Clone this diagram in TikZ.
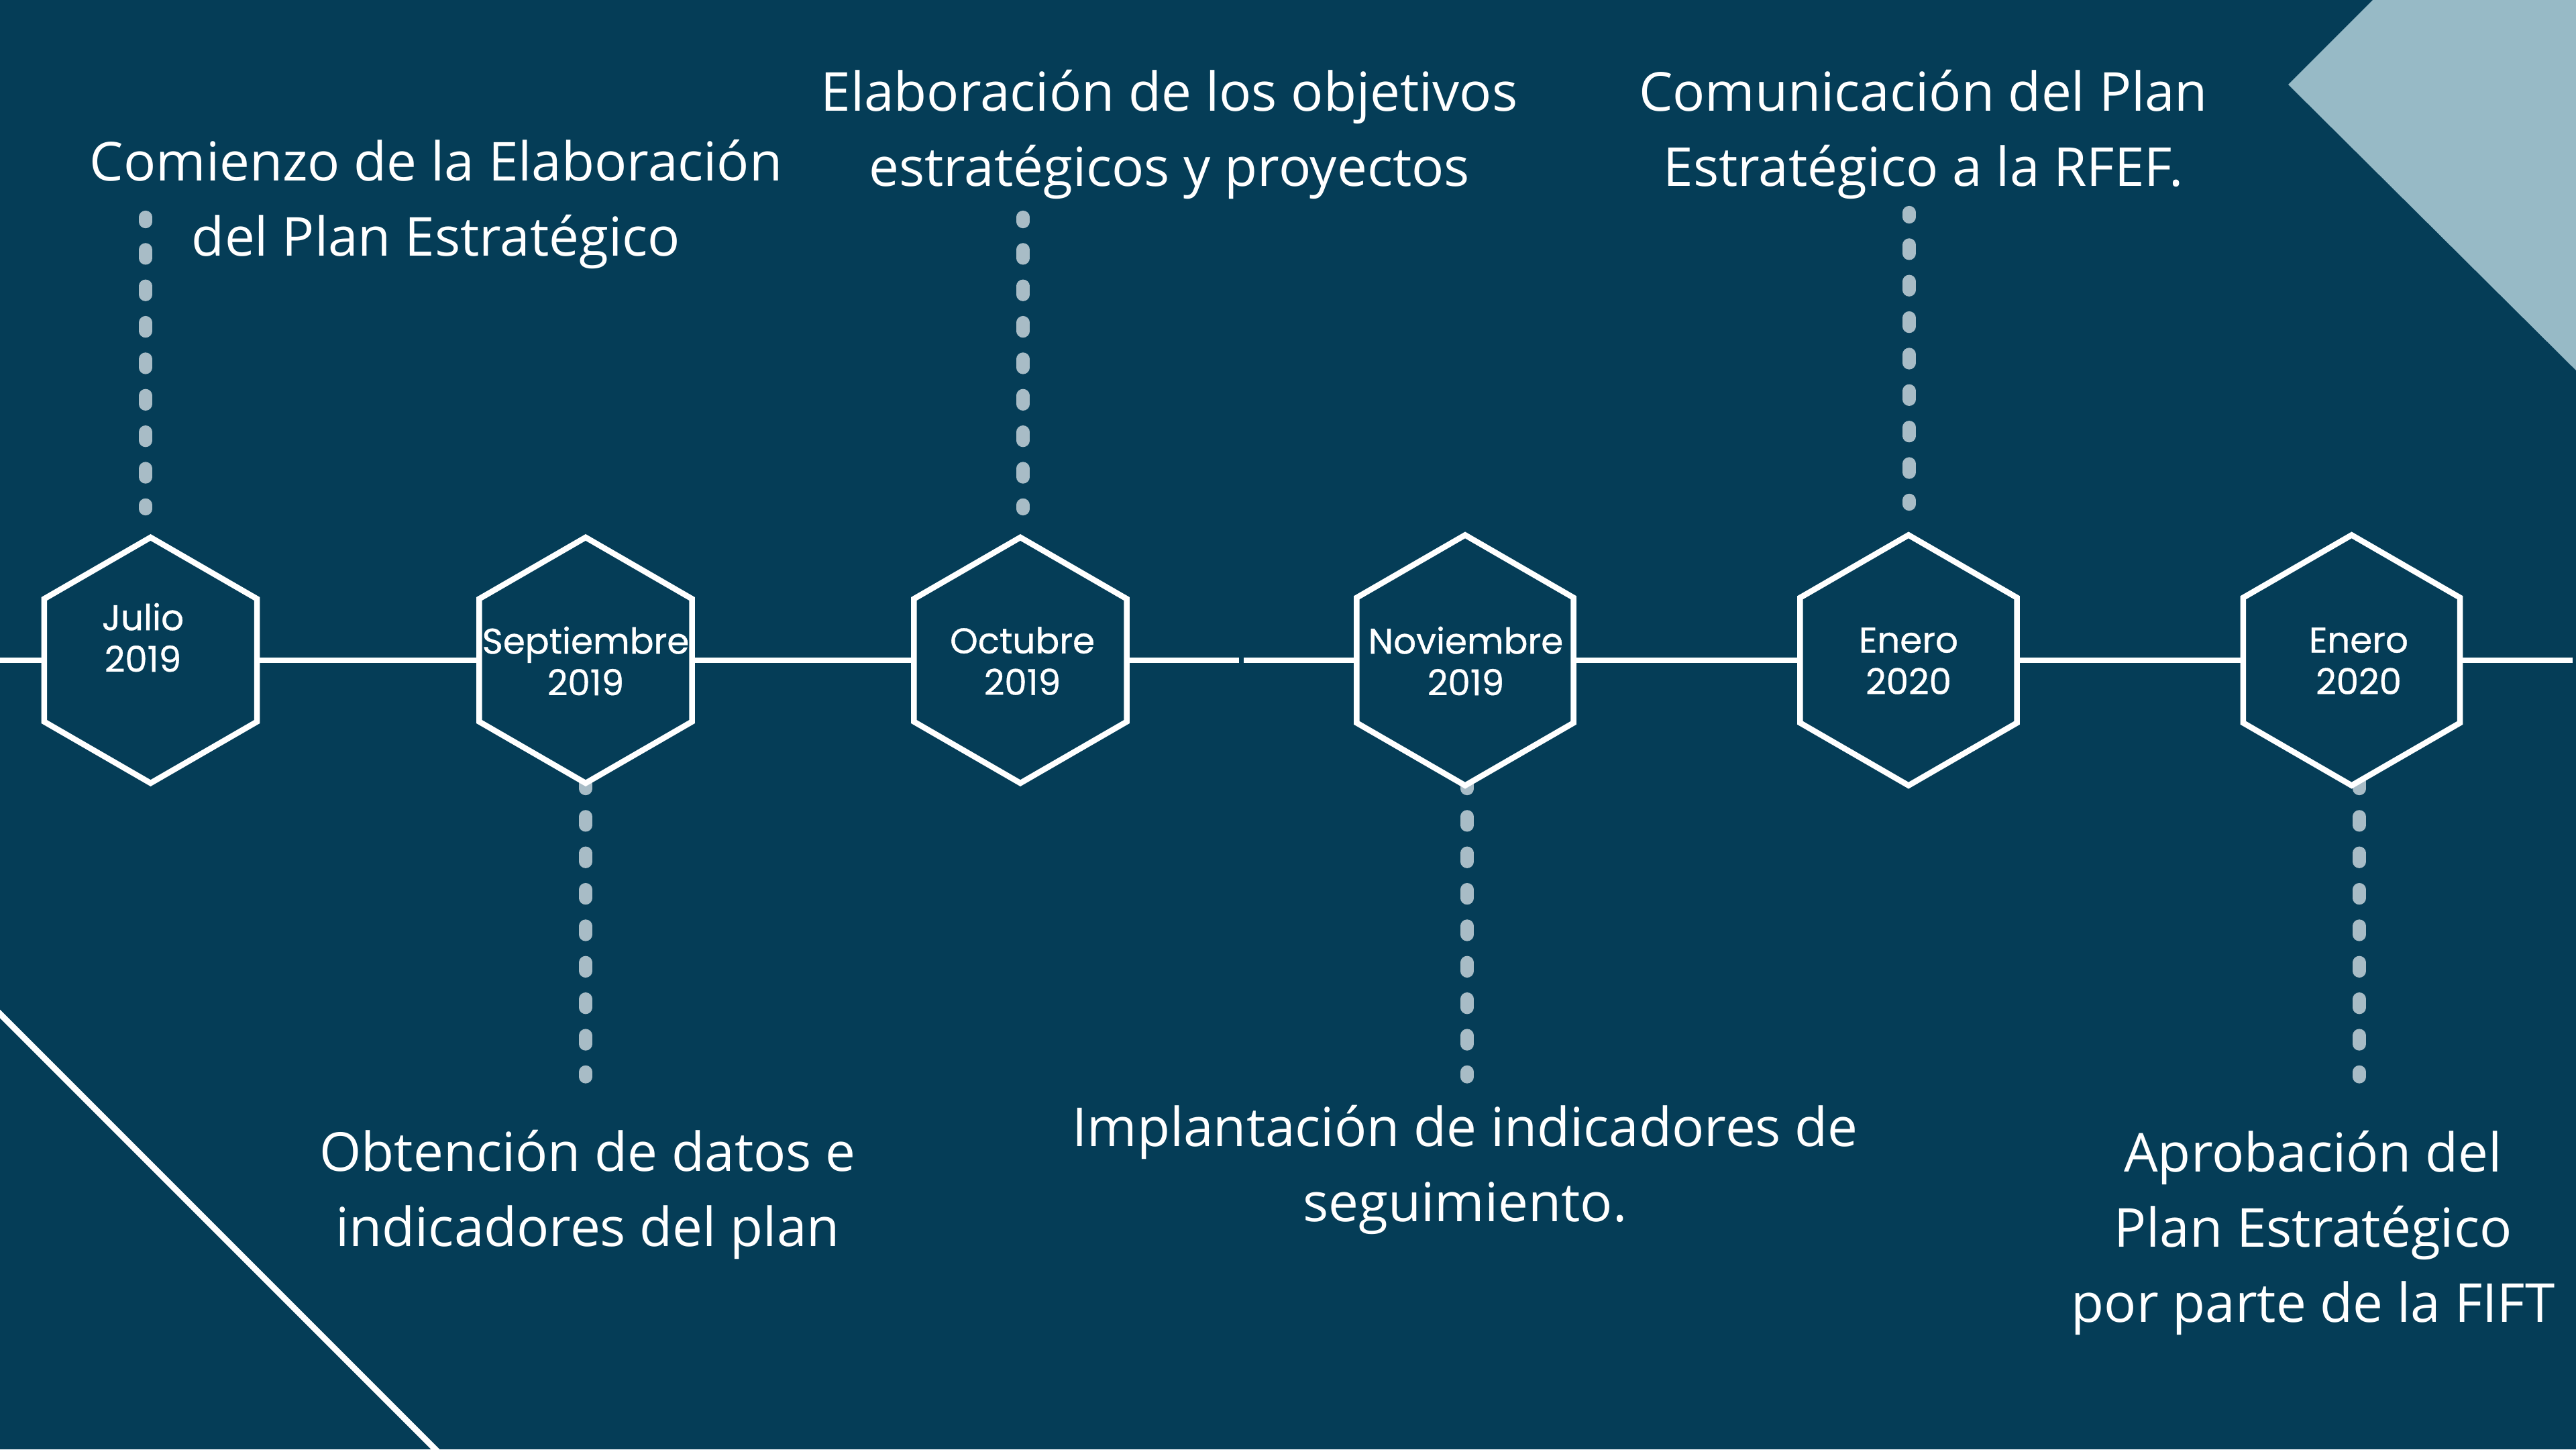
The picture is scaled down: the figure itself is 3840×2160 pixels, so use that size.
\documentclass[tikz,border=0pt]{standalone}
\usepackage{fontspec}
\setmainfont{Open Sans}
\newfontfamily\hexfont[FakeBold=0.7]{Poppins}
\usetikzlibrary{shapes.geometric}
\definecolor{bg}{RGB}{5,61,87}
\definecolor{tri}{RGB}{151,186,198}
\definecolor{dotc}{RGB}{168,188,198}
\tikzset{
  hexa/.style={regular polygon, regular polygon sides=6, shape border rotate=30,
    minimum size=#1, inner sep=0pt, outer sep=0pt, draw=white, line width=0.085cm, fill=bg},
  hexa/.default=3.66cm,
  hext/.style={text=white, align=center, inner sep=0pt,
    font=\hexfont\fontsize{15.1pt}{17.64pt}\selectfont},
  lbl/.style={text=white, inner sep=0pt, anchor=base,
    font=\fontsize{22.76pt}{31.87pt}\selectfont},
  tline/.style={draw=white, line width=0.087cm},
  dotline/.style={draw=dotc, line width=0.193cm, line cap=round,
    dash pattern=on 0.13cm off 0.4133cm},
  diag/.style={draw=white, line width=0.09cm}
}
\newcommand{\lines}[1]{\begin{tabular}[t]{@{}c@{}}#1\end{tabular}}
\begin{document}
\begin{tikzpicture}[x=0.01cm,y=-0.01cm]
\useasboundingbox (0,0) rectangle (3840,2160);
\clip (0,0) rectangle (3840,2160);
\fill[bg] (0,0) rectangle (3840,2160);
% decorations
\fill[tri] (3537,0) -- (3411,126) -- (3840,552) -- (3840,0) -- cycle;
\coordinate (d1) at (-10,1501);
\coordinate (d2) at (659,2170);
\draw[diag] (d1) -- (d2);
% dotted connectors
\coordinate (jt1) at (217,323.5); \coordinate (jt2) at (217,758.5);
\coordinate (ot1) at (1525,323.5); \coordinate (ot2) at (1525,758.5);
\coordinate (et1) at (2846,316.5); \coordinate (et2) at (2846,751.5);
\coordinate (sb1) at (873,1162.5); \coordinate (sb2) at (873,1605);
\coordinate (nb1) at (2187,1162.5); \coordinate (nb2) at (2187,1605);
\coordinate (eb1) at (3517,1162.5); \coordinate (eb2) at (3517,1605);
\draw[dotline, dash phase=0.06cm] (jt1) -- (jt2);
\draw[dotline, dash phase=0.06cm] (ot1) -- (ot2);
\draw[dotline, dash phase=0.06cm] (et1) -- (et2);
\draw[dotline] (sb1) -- (sb2);
\draw[dotline] (nb1) -- (nb2);
\draw[dotline] (eb1) -- (eb2);
% hexagons
\node[hexa] (J) at (224.5,984) {};
\node[hexa] (S) at (873,984) {};
\node[hexa] (O) at (1521,984) {};
\node[hexa=3.73cm] (N) at (2184,984) {};
\node[hexa=3.73cm] (E1) at (2845,984) {};
\node[hexa=3.73cm] (E2) at (3505.5,984) {};
% timeline
\coordinate (L0) at (0,984);
\coordinate (R0) at (3835,984);
\coordinate (g1) at (1847,984);
\coordinate (g2) at (1854,984);
\draw[tline] (L0) -- (J);
\draw[tline] (J) -- (S);
\draw[tline] (S) -- (O);
\draw[tline] (O) -- (g1);
\draw[tline] (g2) -- (N);
\draw[tline] (N) -- (E1);
\draw[tline] (E1) -- (E2);
\draw[tline] (E2) -- (R0);
% hexagon texts
\node[hext] (Jt) at (213,950) {Julio\\2019};
\node[hext] (St) at (873,985) {Septiembre\\2019};
\node[hext] (Ot) at (1524,985) {Octubre\\2019};
\node[hext] (Nt) at (2185,985) {Noviembre\\2019};
\node[hext] (E1t) at (2845,985) {Enero\\2020};
\node[hext] (E2t) at (3516,985) {Enero\\2020};
% labels
\node[lbl] (l1) at (650,269) {\lines{Comienzo de la Elaboración\\del Plan Estratégico}};
\node[lbl] (l2) at (1743,165) {\lines{Elaboración de los objetivos\\estratégicos y proyectos}};
\node[lbl] (l3) at (2867,165) {\lines{Comunicación del Plan\\Estratégico a la RFEF.}};
\node[lbl] (l4) at (876,1745) {\lines{Obtención de datos e\\indicadores del plan}};
\node[lbl] (l5) at (2184,1708) {\lines{Implantación de indicadores de\\seguimiento.}};
\node[lbl] (l6) at (3448,1746) {\lines{Aprobación del\\Plan Estratégico\\por parte de la FIFT}};
\end{tikzpicture}
\end{document}
